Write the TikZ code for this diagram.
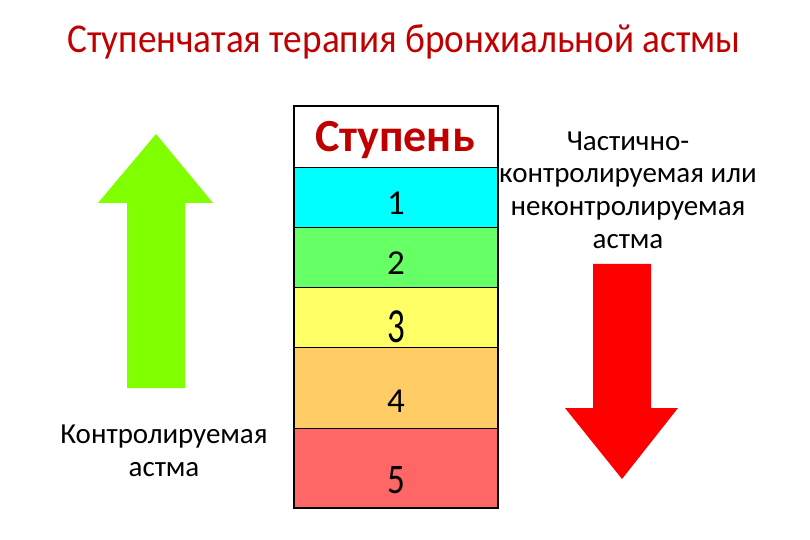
\documentclass[tikz,border=0pt]{standalone}
\usepackage{fontspec}
\setmainfont{Carlito}
\usetikzlibrary{positioning}
\definecolor{titlered}{RGB}{192,0,0}
\definecolor{rowcyan}{RGB}{0,255,255}
\definecolor{rowgreen}{RGB}{102,255,102}
\definecolor{rowyellow}{RGB}{255,255,102}
\definecolor{roworange}{RGB}{255,204,102}
\definecolor{rowred}{RGB}{255,102,102}
\definecolor{upgreen}{RGB}{128,255,0}

\begin{document}
\begin{tikzpicture}[x=0.5pt, y=-0.5pt,
  row/.style={draw=black, line width=0.5pt, minimum width=102pt, inner sep=0pt, outer sep=0pt},
  num/.style={font=\fontsize{17.5}{20}\selectfont, inner sep=0pt},
  side/.style={align=center, font=\fontsize{14.5}{16.3}\selectfont}]
\useasboundingbox (0,0) rectangle (810,540);
\node[font=\fontsize{18.6}{20}\selectfont, text=titlered, yscale=1.1] (title) at (404,42) {Ступенчатая терапия бронхиальной астмы};
% table of steps
\node[row, fill=white, minimum height=31pt] (st) at (396,137) {};
\node[row, fill=rowcyan, minimum height=30pt] (r1) at (396,198) {};
\node[row, fill=rowgreen, minimum height=30pt] (r2) at (396,258) {};
\node[row, fill=rowyellow, minimum height=30pt] (r3) at (396,318) {};
\node[row, fill=roworange, minimum height=40pt] (r4) at (396,388) {};
\node[row, fill=rowred, minimum height=40pt] (r5) at (396,468) {};
\draw[line width=1pt] (st.north west) rectangle (r5.south east);
\node[font=\bfseries\fontsize{23}{25}\selectfont, text=titlered] (head) at (395,140) {Ступень};
\node[num] (n1) at (396,203) {1};
\node[num] (n2) at (396,263) {2};
\node[num, yscale=1.4] (n3) at (396,327) {3};
\node[num] (n4) at (396,401) {4};
\node[num, yscale=1.2] (n5) at (396,480) {5};
% arrows
\fill[upgreen] (127,388) -- (127,203) -- (98,203) -- (156,134) -- (213,203) -- (185,203) -- (185,388) -- cycle;
\fill[red] (593,264) -- (651,264) -- (651,408) -- (678,408) -- (622,479) -- (565,408) -- (593,408) -- cycle;
\node[side] (ctrl) at (164,451) {Контролируемая\\астма};
\node[side] (unctrl) at (628,190) {Частично-\\контролируемая или\\неконтролируемая\\астма};
\end{tikzpicture}
\end{document}
